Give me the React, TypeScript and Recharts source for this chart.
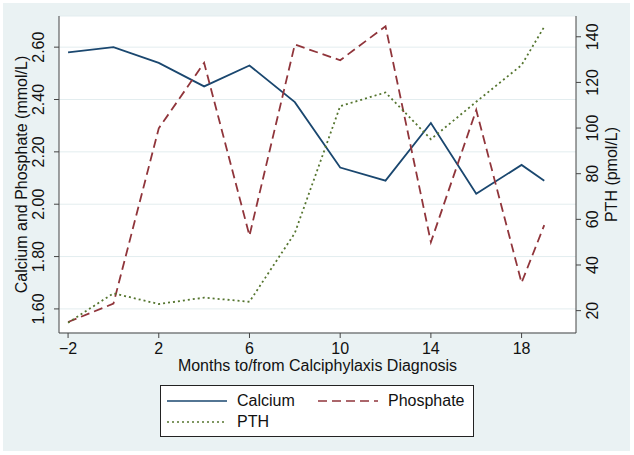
import React from 'react';
import { ComposedChart, Line, XAxis, YAxis, CartesianGrid, Legend, Label } from 'recharts';

// months relative to calciphylaxis diagnosis
const months = [-2, 0, 2, 4, 6, 8, 10, 12, 14, 16, 18, 19];
const calcium = [2.58, 2.6, 2.54, 2.45, 2.53, 2.39, 2.14, 2.09, 2.31, 2.04, 2.15, 2.09];
const phosphate = [1.55, 1.62, 2.29, 2.54, 1.88, 2.61, 2.55, 2.68, 1.855, 2.36, 1.7, 1.92];
const pth = [14.7, 27.6, 22.9, 25.7, 23.9, 54, 109.6, 115.6, 95.1, 111.5, 127.6, 144.4];

const monthTicks = [-2, 2, 6, 10, 14, 18];
const mmolTicks = [1.6, 1.8, 2.0, 2.2, 2.4, 2.6];
const pmolTicks = [20, 40, 60, 80, 100, 120, 140];

const NAVY = '#1a476f';
const MAROON = '#90353b';
const GREEN = '#55752f';
const AXIS = '#444';
const FONT = '"Liberation Sans", Arial, sans-serif';

const data = months.map((m, i) => ({
  month: m,
  calcium: calcium[i],
  phosphate: phosphate[i],
  pth: pth[i],
}));

const series = [
  { key: 'calcium', name: 'Calcium', color: NAVY, dash: undefined as string | undefined },
  { key: 'phosphate', name: 'Phosphate', color: MAROON, dash: '9 5' },
  { key: 'pth', name: 'PTH', color: GREEN, dash: '2 3' },
];

const LeftTick = (props: any) => {
  const { x, y, payload } = props;
  const bx = x - 8;
  return (
    <text x={bx} y={y} transform={`rotate(-90 ${bx} ${y})`} textAnchor="middle" fontSize={16} fontFamily={FONT} fill="#111">
      {payload.value.toFixed(2)}
    </text>
  );
};

const RightTick = (props: any) => {
  const { x, y, payload } = props;
  const bx = x + 15;
  return (
    <text x={bx} y={y} transform={`rotate(-90 ${bx} ${y})`} textAnchor="middle" fontSize={16} fontFamily={FONT} fill="#111">
      {payload.value}
    </text>
  );
};

const BottomTick = (props: any) => {
  const { x, y, payload } = props;
  const v = payload.value < 0 ? '\u2212' + Math.abs(payload.value) : String(payload.value);
  return (
    <text x={x} y={y + 14} textAnchor="middle" fontSize={16} fontFamily={FONT} fill="#111">
      {v}
    </text>
  );
};

const LegendBox = () => (
  <div
    style={{
      width: 312,
      height: 50,
      border: '1px solid #222',
      background: '#fff',
      position: 'relative',
      fontFamily: FONT,
      fontSize: 16,
      color: '#111',
    }}
  >
    {series.map((s, i) => {
      const col = i === 1 ? 1 : 0;
      const row = i === 2 ? 1 : 0;
      const left = col === 0 ? 6 : 157;
      const top = row === 0 ? 4 : 25;
      return (
        <div key={s.key} style={{ position: 'absolute', left, top, height: 22, display: 'flex', alignItems: 'center' }}>
          <svg width={60} height={10}>
            <line x1={0} y1={5} x2={60} y2={5} stroke={s.color} strokeWidth={1.6} strokeDasharray={s.dash} />
          </svg>
          <span style={{ marginLeft: 10 }}>{s.name}</span>
        </div>
      );
    })}
  </div>
);

export default function App() {
  return (
    <div style={{ position: 'absolute', left: 0, top: 0, width: 634, height: 455, background: '#fff' }}>
      <div style={{ position: 'absolute', left: 3, top: 3, width: 627, height: 448, background: '#eaf2f3' }} />
      <div style={{ position: 'absolute', left: 0, top: 0 }}>
        <ComposedChart width={634} height={455} data={data} margin={{ top: 16, right: 0, bottom: 72, left: 0 }}>
          <CartesianGrid yAxisId="left" vertical={false} stroke="#e3edef" fill="#fff" />
          <XAxis
            dataKey="month"
            type="number"
            domain={[-2.4, 20.4]}
            ticks={monthTicks}
            allowDataOverflow
            height={50}
            tickSize={5}
            stroke={AXIS}
            tick={<BottomTick />}
          >
            <Label
              content={(p: any) => {
                const vb = p.viewBox;
                return (
                  <text x={vb.x + vb.width / 2} y={vb.y + 38} textAnchor="middle" fontSize={16} fontFamily={FONT} fill="#111">
                    Months to/from Calciphylaxis Diagnosis
                  </text>
                );
              }}
            />
          </XAxis>
          <YAxis
            yAxisId="left"
            orientation="left"
            domain={[1.508, 2.719]}
            ticks={mmolTicks}
            allowDataOverflow
            width={59}
            tickSize={5}
            stroke={AXIS}
            tick={<LeftTick />}
          >
            <Label
              content={(p: any) => {
                const vb = p.viewBox;
                const x = vb.x + 27;
                const y = vb.y + vb.height / 2;
                return (
                  <text x={x} y={y} transform={`rotate(-90 ${x} ${y})`} textAnchor="middle" fontSize={16} fontFamily={FONT} fill="#111">
                    Calcium and Phosphate (mmol/L)
                  </text>
                );
              }}
            />
          </YAxis>
          <YAxis
            yAxisId="right"
            orientation="right"
            domain={[10.2, 149.1]}
            ticks={pmolTicks}
            allowDataOverflow
            width={58}
            tickSize={5}
            stroke={AXIS}
            tick={<RightTick />}
          >
            <Label
              content={(p: any) => {
                const vb = p.viewBox;
                const x = vb.x + 41;
                const y = vb.y + vb.height / 2;
                return (
                  <text x={x} y={y} transform={`rotate(-90 ${x} ${y})`} textAnchor="middle" fontSize={16} fontFamily={FONT} fill="#111">
                    PTH (pmol/L)
                  </text>
                );
              }}
            />
          </YAxis>
          <Legend
            layout="horizontal"
            verticalAlign="middle"
            align="center"
            wrapperStyle={{ left: 160, top: 385, width: 314, height: 52 }}
            content={() => <LegendBox />}
          />
          <Line yAxisId="left" type="linear" dataKey="calcium" name="Calcium" stroke={NAVY} strokeWidth={1.8} dot={false} isAnimationActive={false} />
          <Line yAxisId="left" type="linear" dataKey="phosphate" name="Phosphate" stroke={MAROON} strokeWidth={1.8} strokeDasharray="9 5" dot={false} isAnimationActive={false} />
          <Line yAxisId="right" type="linear" dataKey="pth" name="PTH" stroke={GREEN} strokeWidth={1.8} strokeDasharray="2 3" dot={false} isAnimationActive={false} />
        </ComposedChart>
      </div>
    </div>
  );
}
